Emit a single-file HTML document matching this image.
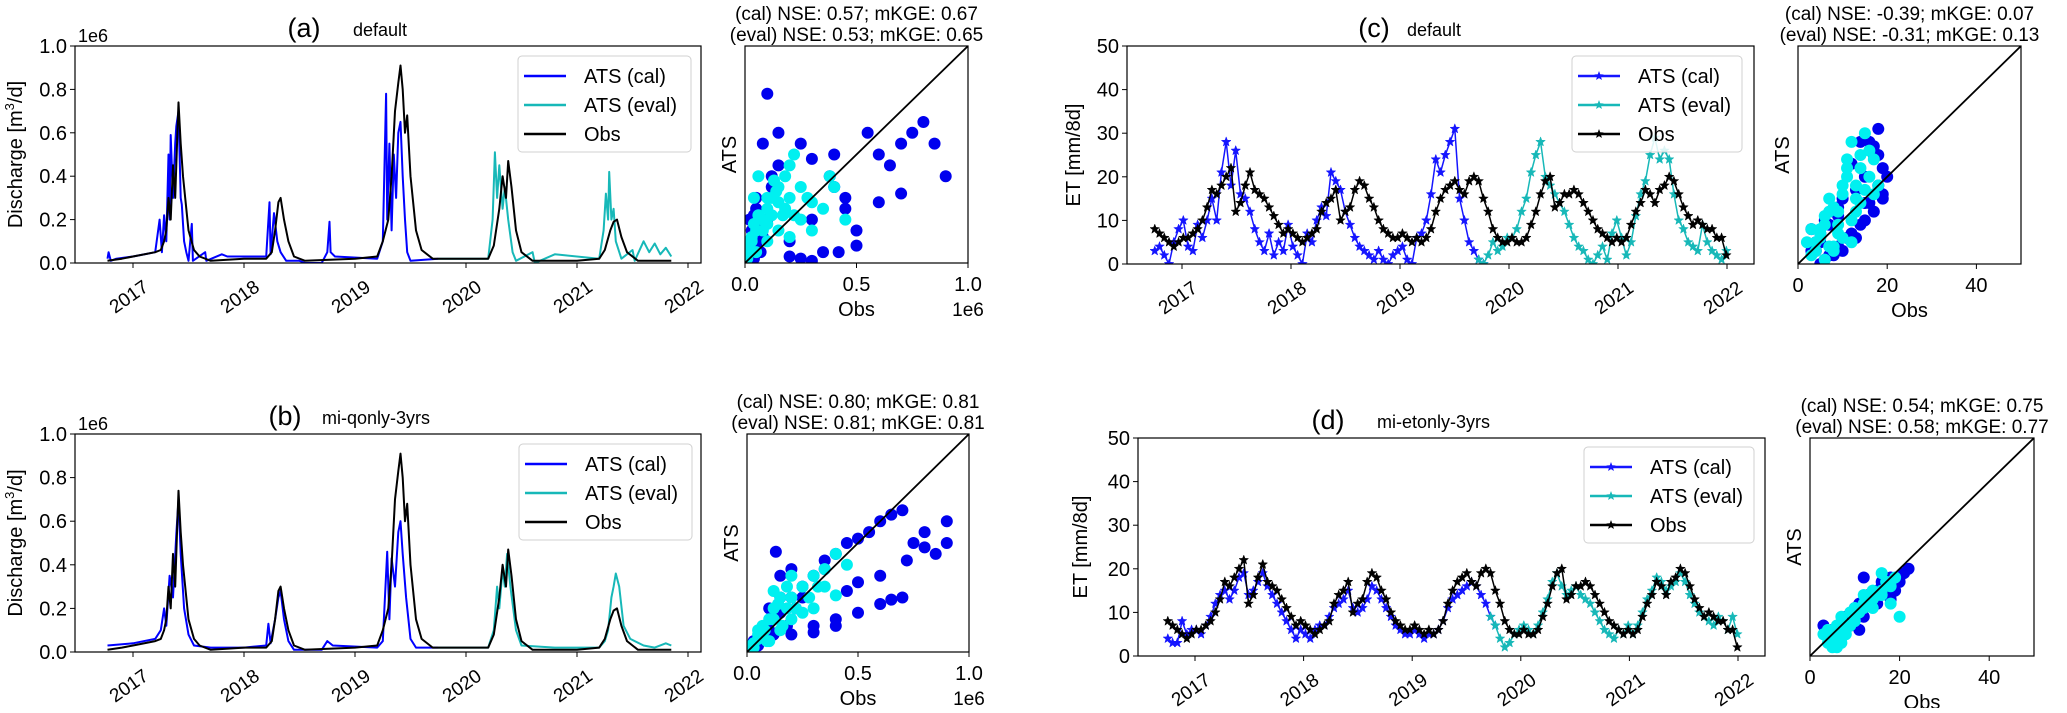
<!DOCTYPE html>
<html><head><meta charset="utf-8"><style>
body{margin:0;background:#fff}
svg text{font-family:"Liberation Sans",sans-serif;fill:#000}
</style></head><body>
<svg id="fig" xmlns="http://www.w3.org/2000/svg" width="2067" height="708" viewBox="0 0 2067 708"></svg>
<script>
// ===== Discharge data (decimal year, value in 1e6 m3/d) =====
const qObsT=[2016.77,2016.9,2017.0,2017.2,2017.25,2017.28,2017.3,2017.32,2017.34,2017.36,2017.38,2017.40,2017.41,2017.43,2017.45,2017.47,2017.5,2017.55,2017.6,2017.7,2018.0,2018.2,2018.25,2018.28,2018.31,2018.33,2018.36,2018.4,2018.45,2018.55,2019.0,2019.2,2019.25,2019.3,2019.33,2019.36,2019.39,2019.41,2019.43,2019.45,2019.47,2019.5,2019.55,2019.6,2019.7,2020.0,2020.2,2020.25,2020.3,2020.33,2020.36,2020.38,2020.41,2020.45,2020.5,2020.6,2021.0,2021.2,2021.25,2021.3,2021.33,2021.36,2021.4,2021.45,2021.55,2021.85];
const qObsV=[0.01,0.02,0.03,0.05,0.06,0.1,0.15,0.3,0.2,0.45,0.3,0.6,0.74,0.55,0.4,0.3,0.15,0.06,0.03,0.01,0.02,0.02,0.05,0.15,0.28,0.30,0.2,0.1,0.03,0.01,0.02,0.03,0.1,0.2,0.4,0.7,0.83,0.91,0.8,0.6,0.68,0.4,0.15,0.06,0.02,0.02,0.02,0.08,0.25,0.4,0.3,0.47,0.35,0.15,0.05,0.01,0.01,0.02,0.06,0.15,0.19,0.2,0.12,0.05,0.01,0.01];
const qaCalT=[2016.77,2016.78,2016.8,2016.85,2017.0,2017.2,2017.24,2017.26,2017.28,2017.3,2017.32,2017.33,2017.34,2017.36,2017.38,2017.39,2017.41,2017.43,2017.44,2017.46,2017.48,2017.5,2017.53,2017.54,2017.65,2017.66,2017.8,2017.85,2018.2,2018.23,2018.24,2018.27,2018.3,2018.33,2018.38,2018.5,2018.55,2018.7,2018.75,2018.77,2018.78,2018.82,2019.2,2019.25,2019.28,2019.29,2019.31,2019.33,2019.35,2019.37,2019.39,2019.41,2019.43,2019.45,2019.47,2019.5,2019.75];
const qaCalV=[0.02,0.05,0.01,0.02,0.03,0.05,0.2,0.05,0.22,0.1,0.5,0.2,0.59,0.3,0.55,0.63,0.7,0.3,0.27,0.1,0.05,0.01,0.18,0.01,0.05,0.01,0.04,0.03,0.03,0.28,0.04,0.23,0.1,0.05,0.01,0.01,0.0,0.0,0.05,0.19,0.05,0.03,0.02,0.1,0.78,0.2,0.55,0.15,0.5,0.3,0.6,0.65,0.4,0.2,0.05,0.01,0.02];
const qaEvalT=[2019.75,2020.2,2020.24,2020.26,2020.28,2020.3,2020.33,2020.35,2020.38,2020.42,2020.45,2020.6,2020.62,2020.8,2021.2,2021.24,2021.26,2021.28,2021.29,2021.31,2021.33,2021.35,2021.4,2021.5,2021.52,2021.6,2021.65,2021.7,2021.75,2021.8,2021.85];
const qaEvalV=[0.02,0.02,0.2,0.51,0.3,0.45,0.25,0.35,0.2,0.05,0.01,0.05,0.0,0.04,0.02,0.15,0.32,0.2,0.42,0.2,0.25,0.1,0.02,0.06,0.01,0.1,0.05,0.09,0.04,0.07,0.03];
const qbCalT=[2016.77,2017.0,2017.2,2017.25,2017.28,2017.3,2017.33,2017.36,2017.39,2017.41,2017.43,2017.46,2017.5,2017.55,2017.7,2018.0,2018.2,2018.22,2018.24,2018.28,2018.31,2018.33,2018.36,2018.4,2018.45,2018.7,2018.75,2018.8,2019.2,2019.25,2019.29,2019.31,2019.33,2019.36,2019.39,2019.41,2019.43,2019.46,2019.5,2019.55,2019.75];
const qbCalV=[0.03,0.04,0.06,0.1,0.2,0.12,0.35,0.25,0.54,0.7,0.45,0.2,0.08,0.03,0.02,0.02,0.03,0.13,0.04,0.15,0.25,0.28,0.15,0.05,0.01,0.01,0.05,0.03,0.02,0.05,0.46,0.15,0.43,0.3,0.55,0.6,0.45,0.25,0.06,0.02,0.02];
const qbEvalT=[2019.75,2020.2,2020.25,2020.28,2020.3,2020.33,2020.35,2020.37,2020.4,2020.45,2020.5,2020.8,2021.2,2021.25,2021.28,2021.31,2021.33,2021.35,2021.38,2021.42,2021.48,2021.6,2021.7,2021.8,2021.85];
const qbEvalV=[0.02,0.02,0.1,0.3,0.2,0.38,0.3,0.45,0.3,0.1,0.03,0.02,0.02,0.05,0.1,0.25,0.3,0.36,0.3,0.12,0.06,0.03,0.02,0.04,0.03];
// ===== Discharge scatter (obs, ATS) in 1e6 =====
const saCalObs=[0.02,0.03,0.05,0.08,0.1,0.12,0.15,0.05,0.04,0.2,0.25,0.3,0.35,0.4,0.45,0.5,0.55,0.6,0.65,0.7,0.75,0.8,0.9,0.85,0.3,0.4,0.45,0.5,0.25,0.15,0.1,0.2,0.3,0.6,0.7,0.42,0.38,0.05,0.02,0.12,0.01,0.02,0.03,0.04,0.05,0.06,0.07,0.08,0.02,0.03,0.01,0.05];
const saCalSim=[0.05,0.2,0.15,0.55,0.2,0.35,0.45,0.05,0.02,0.1,0.02,0.2,0.05,0.35,0.25,0.15,0.6,0.5,0.45,0.55,0.6,0.65,0.4,0.55,0.48,0.5,0.3,0.08,0.55,0.6,0.78,0.03,0.01,0.28,0.32,0.05,0.4,0.3,0.02,0.4,0.01,0.1,0.15,0.22,0.08,0.18,0.05,0.12,0.2,0.03,0.05,0.25];
const saEvalObs=[0.01,0.02,0.03,0.05,0.08,0.1,0.12,0.15,0.18,0.2,0.22,0.25,0.28,0.3,0.35,0.4,0.45,0.05,0.1,0.15,0.2,0.04,0.06,0.3,0.38,0.02,0.13,0.17,0.01,0.02,0.03,0.04,0.06,0.08,0.1,0.12,0.15,0.18,0.2,0.22,0.25,0.1,0.14];
const saEvalSim=[0.02,0.05,0.1,0.15,0.2,0.25,0.3,0.35,0.4,0.45,0.5,0.2,0.3,0.15,0.25,0.35,0.2,0.05,0.1,0.15,0.12,0.3,0.4,0.28,0.4,0.1,0.38,0.22,0.05,0.08,0.12,0.18,0.22,0.15,0.18,0.22,0.28,0.25,0.3,0.22,0.35,0.3,0.33];
const sbCalObs=[0.02,0.05,0.1,0.15,0.2,0.25,0.3,0.35,0.4,0.45,0.5,0.55,0.6,0.65,0.7,0.75,0.8,0.85,0.9,0.3,0.4,0.5,0.6,0.7,0.2,0.3,0.4,0.5,0.6,0.65,0.1,0.15,0.2,0.25,0.35,0.45,0.8,0.9,0.72,0.13,0.01,0.03,0.05,0.07,0.09,0.12,0.15,0.18,0.22];
const sbCalSim=[0.02,0.06,0.1,0.18,0.25,0.3,0.35,0.42,0.45,0.5,0.52,0.55,0.6,0.63,0.65,0.5,0.48,0.45,0.6,0.12,0.15,0.18,0.22,0.25,0.08,0.09,0.12,0.32,0.35,0.24,0.2,0.35,0.38,0.25,0.38,0.28,0.55,0.5,0.42,0.46,0.02,0.05,0.03,0.1,0.12,0.08,0.25,0.12,0.2];
const sbEvalObs=[0.02,0.05,0.08,0.1,0.12,0.15,0.18,0.2,0.25,0.3,0.35,0.4,0.45,0.1,0.15,0.2,0.25,0.3,0.12,0.18,0.05,0.03,0.35,0.4,0.01,0.03,0.05,0.07,0.09,0.12,0.14,0.16,0.2,0.22,0.28,0.32];
const sbEvalSim=[0.03,0.06,0.1,0.15,0.2,0.25,0.3,0.35,0.3,0.35,0.38,0.45,0.4,0.05,0.1,0.15,0.18,0.2,0.28,0.2,0.1,0.02,0.3,0.26,0.01,0.04,0.08,0.12,0.05,0.15,0.22,0.12,0.25,0.2,0.25,0.3];
// ===== ET data (mm/8d), 16-day samples starting 2016.75 =====
const etStart=2016.75, etStep=0.0437, etSplit=2019.75;
const etObs=[8,7,6,5,4,5,
6,6,7,8,10,13,17,16,18,20,22,12,14,18,21,17,16,15,13,11,9,7,8,
7,6,5,6,7,8,12,14,15,17,10,12,13,17,19,18,15,13,10,8,7,6,6,
7,6,5,6,5,6,8,12,15,17,18,19,17,16,19,20,19,15,12,8,6,5,5,
6,5,5,6,9,12,16,19,20,13,14,16,16,17,16,14,12,10,8,7,6,5,6,
5,6,9,12,14,17,16,14,17,18,20,19,16,13,11,9,10,9,8,8,6,6,2];
const etSimC=[3,4,2,0,5,8,
10,4,3,9,6,10,15,10,21,28,18,26,16,15,12,8,5,3,7,2,5,3,9,
4,2,0,7,5,10,13,11,21,19,17,12,9,6,4,3,2,1,3,1,0,2,3,
4,1,0,6,7,10,16,24,21,25,28,31,15,10,5,3,1,0,2,5,3,4,6,
6,8,12,15,21,25,28,20,18,16,14,12,9,6,4,3,1,0,2,4,1,7,10,
6,2,5,11,16,19,25,29,24,26,24,16,10,8,5,4,3,9,5,3,2,1,3];
const etSimD=[4,3,3,8,5,6,
6,5,7,9,12,14,15,13,15,18,19,14,15,17,19,16,14,12,10,8,6,4,6,
5,4,6,7,7,9,11,12,13,15,11,10,11,13,16,15,13,11,9,7,6,5,5,
6,5,4,5,5,6,8,11,13,14,15,16,17,16,14,12,9,7,4,2,3,5,6,
7,6,5,7,10,13,17,19,16,14,15,16,14,13,12,10,8,6,5,4,6,5,7,
5,7,10,13,15,18,17,15,16,17,19,17,14,12,10,9,8,7,9,8,6,9,5];
// ===== ET scatter (obs, ATS) =====
const scCalObs=[3,4,5,6,7,8,9,10,12,14,15,16,17,18,19,20,5,8,10,13,15,17,19,18,16,6,12,14,4,9,3,5,7,9,11,13,15,17,18,19];
const scCalSim=[8,3,5,10,2,12,4,15,7,9,20,28,27,31,22,20,0,2,3,6,14,25,15,18,14,1,23,28,5,11,3,7,9,13,6,17,10,12,25,16];
const scEvalObs=[3,4,5,6,7,8,9,10,11,12,13,14,15,16,17,18,6,8,10,12,14,16,5,7,9,11,13,17,2,3,4,5,6,7,8,9,10,11,12,13,14,15];
const scEvalSim=[2,5,8,11,4,13,9,16,22,28,18,25,30,26,24,18,1,3,6,10,14,20,7,15,12,24,12,16,5,8,3,6,9,12,4,7,18,20,5,15,22,17];
const sdCalObs=[3,4,5,6,7,8,9,10,11,12,13,14,15,16,17,18,19,20,21,22,5,8,12,15,18,11,6,8,10,12,14,16,18,20];
const sdCalSim=[7,5,6,4,6,8,7,10,12,11,14,13,15,16,17,18,15,17,19,20,3,9,18,12,13,6,5,8,11,9,12,17,14,18];
const sdEvalObs=[3,4,5,6,7,8,9,10,11,12,13,14,15,16,17,18,19,20,6,8,10,12,14,16,18,7,4,5,6,7,8,9,10,12,14,16,18,5,7];
const sdEvalSim=[5,3,4,2,6,5,7,8,10,11,12,13,14,15,17,16,18,9,4,7,9,14,11,19,12,3,6,5,7,9,6,10,11,12,15,14,17,2,4];
const years=[2017,2018,2019,2020,2021,2022];
const qTicks=["0.0","0.2","0.4","0.6","0.8","1.0"];
const etTicks=["0","10","20","30","40","50"];

const NS="http://www.w3.org/2000/svg";
const svg=document.getElementById('fig');
function el(tag,attrs,parent){const e=document.createElementNS(NS,tag);for(const k in attrs)e.setAttribute(k,attrs[k]);(parent||svg).appendChild(e);return e;}
function txt(s,x,y,size,anchor,parent,extra){const t=el('text',Object.assign({x:x,y:y,'font-size':size,'text-anchor':anchor||'start'},extra||{}),parent);t.textContent=s;return t;}
const C_CAL='#0000ff',C_EVAL='#17b8b8',C_SCAL='#0000ee',C_SEVAL='#00f0f0';
const BLUE_D='#1515ff';
let clipId=0;
function starPts(cx,cy,r){let p=[];for(let i=0;i<10;i++){const a=-Math.PI/2+i*Math.PI/5;const rr=i%2?r*0.42:r;p.push((cx+rr*Math.cos(a)).toFixed(1)+','+(cy+rr*Math.sin(a)).toFixed(1));}return p.join(' ');}

function tsPanel(cfg){
  const g=el('g',{});
  
  
  const xs=t=>cfg.x2017+(t-2017)*cfg.ppy;
  const ys=v=>cfg.y1-(v/cfg.ymax)*(cfg.y1-cfg.y0);
  const id='c'+(clipId++);
  const cp=el('clipPath',{id:id},g);el('rect',{x:cfg.x0,y:cfg.y0,width:cfg.x1-cfg.x0,height:cfg.y1-cfg.y0},cp);
  const pg=el('g',{'clip-path':'url(#'+id+')'},g);
  cfg.series.forEach(s=>{
    const pts=s.t.map((t,i)=>xs(t).toFixed(1)+','+ys(s.v[i]).toFixed(1)).join(' ');
    const pl=el('polyline',{points:pts,fill:'none',stroke:s.color,'stroke-width':s.w||2,'stroke-linejoin':'round'},pg);
    
    
    if(s.star){s.t.forEach((t,i)=>{const st=el('polygon',{points:starPts(xs(t),ys(s.v[i]),5),fill:s.color,stroke:s.color,'stroke-width':0.5},pg);});}
  });
  const fr=el('rect',{x:cfg.x0,y:cfg.y0,width:cfg.x1-cfg.x0,height:cfg.y1-cfg.y0,fill:'none',stroke:'#000','stroke-width':1.2},g);
  
  cfg.yticks.forEach((lab,i)=>{const v=i*cfg.ymax/(cfg.yticks.length-1);const y=ys(v);el('line',{x1:cfg.x0-5,x2:cfg.x0,y1:y,y2:y,stroke:'#000'},g);const t=txt(lab,cfg.x0-8,y+7,20,'end',g);});
  years.forEach(yr=>{const x=xs(yr);el('line',{x1:x,x2:x,y1:cfg.y1,y2:cfg.y1+5,stroke:'#000'},g);const t=txt(String(yr),x-4,cfg.y1+40,19,'middle',g,{transform:'rotate(-35 '+(x-4)+' '+(cfg.y1+34)+')'});});
  const yl=txt(cfg.ylabel.text,0,0,20,'middle',g,{transform:'translate('+cfg.ylabel.x+','+((cfg.y0+cfg.y1)/2)+') rotate(-90)'});
  
  if(cfg.ylabel.sup){yl.textContent='';const a=el('tspan',{},yl);a.textContent='Discharge [m';const b=el('tspan',{'font-size':13,dy:-8},yl);b.textContent='3';const c=el('tspan',{dy:8},yl);c.textContent='/d]';}
  if(cfg.offset){const t=txt('1e6',cfg.x0+3,cfg.y0-4,18,'start',g);}
  const tl=txt(cfg.label,cfg.labelX,cfg.y0-9,27,'middle',g);
  const tn=txt(cfg.title,cfg.titleX,cfg.y0-10,18,'start',g);
  const L=cfg.legend;const lg=el('g',{},g);
  el('rect',{x:L.x,y:L.y,width:L.w,height:96,rx:4,fill:'#fff','fill-opacity':0.85,stroke:'#d0d0d0'},lg);
  cfg.series.slice(0).sort((a,b)=>a.order-b.order).forEach((s,i)=>{const yy=L.y+20+i*29;
    const e=el('g',{},lg);
    el('line',{x1:L.x+6,x2:L.x+48,y1:yy,y2:yy,stroke:s.color,'stroke-width':2.5},e);
    if(s.star)el('polygon',{points:starPts(L.x+27,yy,5),fill:s.color},e);
    txt(s.label,L.x+66,yy+7,20,'start',e);});
}

function scPanel(cfg){
  const g=el('g',{});
  
  
  const xs=v=>cfg.x0+v/cfg.max*(cfg.x1-cfg.x0);
  const ys=v=>cfg.y1-v/cfg.max*(cfg.y1-cfg.y0);
  const id='c'+(clipId++);
  const cp=el('clipPath',{id:id},g);el('rect',{x:cfg.x0,y:cfg.y0,width:cfg.x1-cfg.x0,height:cfg.y1-cfg.y0},cp);
  const pg=el('g',{'clip-path':'url(#'+id+')'},g);
  cfg.sets.forEach(s=>{s.obs.forEach((o,i)=>{const c=el('circle',{cx:xs(o),cy:ys(s.sim[i]),r:6,fill:s.color},pg);});});
  const d=el('line',{x1:xs(0),y1:ys(0),x2:xs(cfg.max),y2:ys(cfg.max),stroke:'#000','stroke-width':1.8},pg);
  
  el('rect',{x:cfg.x0,y:cfg.y0,width:cfg.x1-cfg.x0,height:cfg.y1-cfg.y0,fill:'none',stroke:'#000','stroke-width':1.2},g);
  cfg.ticks.forEach(tk=>{const x=xs(tk.v);el('line',{x1:x,x2:x,y1:cfg.y1,y2:cfg.y1+5,stroke:'#000'},g);const t=txt(tk.l,x,cfg.y1+28,20,'middle',g);});
  const cx=(cfg.x0+cfg.x1)/2;
  const xl=txt('Obs',cx,cfg.y1+53,20,'middle',g);
  if(cfg.offset){const t=txt('1e6',cfg.x1,cfg.y1+53,19,'middle',g);}
  const yl=txt('ATS',0,0,20,'middle',g,{transform:'translate('+(cfg.x0-9)+','+((cfg.y0+cfg.y1)/2)+') rotate(-90)'});
  const s1=txt(cfg.stats[0],cx,cfg.y0-26,19,'middle',g);
  const s2=txt(cfg.stats[1],cx,cfg.y0-5,19,'middle',g);
}

function etT(n){return Array.from({length:n},(_,i)=>etStart+i*etStep);}
function splitSeries(vals){const t=etT(vals.length);const ct=[],cv=[],et=[],ev=[];t.forEach((x,i)=>{if(x<=etSplit+0.02){ct.push(x);cv.push(vals[i]);}if(x>=etSplit-0.03){et.push(x);ev.push(vals[i]);}});return {ct,cv,et,ev};}
const sC=splitSeries(etSimC), sD=splitSeries(etSimD);

tsPanel({name:'panel-a-discharge-default',x0:75,x1:701,y0:46,y1:263,x2017:133,ppy:111,ymax:1,yticks:qTicks,
  ylabel:{text:'Discharge [m3/d]',x:22,sup:true},offset:true,label:'(a)',labelX:304,title:'default',titleX:353,
  legend:{x:518,y:56,w:173},
  series:[{name:'ats-cal-line',label:'ATS (cal)',t:qaCalT,v:qaCalV,color:C_CAL,order:0},{name:'ats-eval-line',label:'ATS (eval)',t:qaEvalT,v:qaEvalV,color:C_EVAL,order:1},{name:'obs-line',label:'Obs',t:qObsT,v:qObsV,color:'#000',order:2}]});
tsPanel({name:'panel-b-discharge-mi-qonly',x0:75,x1:701,y0:434,y1:652,x2017:133,ppy:111,ymax:1,yticks:qTicks,
  ylabel:{text:'Discharge [m3/d]',x:22,sup:true},offset:true,label:'(b)',labelX:285,title:'mi-qonly-3yrs',titleX:322,
  legend:{x:519,y:444,w:173},
  series:[{name:'ats-cal-line',label:'ATS (cal)',t:qbCalT,v:qbCalV,color:C_CAL,order:0},{name:'ats-eval-line',label:'ATS (eval)',t:qbEvalT,v:qbEvalV,color:C_EVAL,order:1},{name:'obs-line',label:'Obs',t:qObsT,v:qObsV,color:'#000',order:2}]});
tsPanel({name:'panel-c-et-default',x0:1127,x1:1754,y0:46,y1:264,x2017:1182,ppy:109,ymax:50,yticks:etTicks,
  ylabel:{text:'ET [mm/8d]',x:1080},label:'(c)',labelX:1374,title:'default',titleX:1407,
  legend:{x:1572,y:56,w:170},
  series:[{name:'ats-cal-line',label:'ATS (cal)',t:sC.ct,v:sC.cv,color:BLUE_D,order:0,star:true,w:1.5},{name:'ats-eval-line',label:'ATS (eval)',t:sC.et,v:sC.ev,color:C_EVAL,order:1,star:true,w:1.5},{name:'obs-line',label:'Obs',t:etT(etObs.length),v:etObs,color:'#000',order:2,star:true,w:1.5}]});
tsPanel({name:'panel-d-et-mi-etonly',x0:1138,x1:1765,y0:438,y1:656,x2017:1195,ppy:108.6,ymax:50,yticks:etTicks,
  ylabel:{text:'ET [mm/8d]',x:1087},label:'(d)',labelX:1328,title:'mi-etonly-3yrs',titleX:1377,
  legend:{x:1584,y:447,w:170},
  series:[{name:'ats-cal-line',label:'ATS (cal)',t:sD.ct,v:sD.cv,color:BLUE_D,order:0,star:true,w:1.5},{name:'ats-eval-line',label:'ATS (eval)',t:sD.et,v:sD.ev,color:C_EVAL,order:1,star:true,w:1.5},{name:'obs-line',label:'Obs',t:etT(etObs.length),v:etObs,color:'#000',order:2,star:true,w:1.5}]});

const qT=[{v:0,l:'0.0'},{v:0.5,l:'0.5'},{v:1,l:'1.0'}], eT=[{v:0,l:'0'},{v:20,l:'20'},{v:40,l:'40'}];
scPanel({name:'scatter-a',x0:745,x1:968,y0:46,y1:263,max:1,ticks:qT,offset:true,stats:['(cal) NSE: 0.57; mKGE: 0.67','(eval) NSE: 0.53; mKGE: 0.65'],
  sets:[{name:'scatter-cal-point',obs:saCalObs,sim:saCalSim,color:C_SCAL},{name:'scatter-eval-point',obs:saEvalObs,sim:saEvalSim,color:C_SEVAL}]});
scPanel({name:'scatter-b',x0:747,x1:969,y0:434,y1:652,max:1,ticks:qT,offset:true,stats:['(cal) NSE: 0.80; mKGE: 0.81','(eval) NSE: 0.81; mKGE: 0.81'],
  sets:[{name:'scatter-cal-point',obs:sbCalObs,sim:sbCalSim,color:C_SCAL},{name:'scatter-eval-point',obs:sbEvalObs,sim:sbEvalSim,color:C_SEVAL}]});
scPanel({name:'scatter-c',x0:1798,x1:2021,y0:46,y1:264,max:50,ticks:eT,stats:['(cal) NSE: -0.39; mKGE: 0.07','(eval) NSE: -0.31; mKGE: 0.13'],
  sets:[{name:'scatter-cal-point',obs:scCalObs,sim:scCalSim,color:C_SCAL},{name:'scatter-eval-point',obs:scEvalObs,sim:scEvalSim,color:C_SEVAL}]});
scPanel({name:'scatter-d',x0:1810,x1:2034,y0:438,y1:656,max:50,ticks:eT,stats:['(cal) NSE: 0.54; mKGE: 0.75','(eval) NSE: 0.58; mKGE: 0.77'],
  sets:[{name:'scatter-cal-point',obs:sdCalObs,sim:sdCalSim,color:C_SCAL},{name:'scatter-eval-point',obs:sdEvalObs,sim:sdEvalSim,color:C_SEVAL}]});
</script>
</body></html>
